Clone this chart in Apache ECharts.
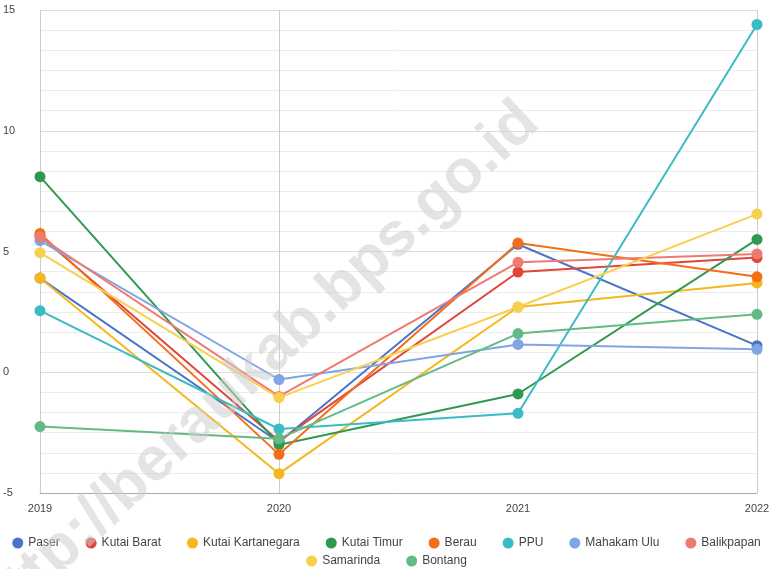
<!DOCTYPE html>
<html>
<head>
<meta charset="utf-8">
<script src="https://cdn.jsdelivr.net/npm/echarts@6/dist/echarts.min.js"></script>
<style>
  html, body { margin: 0; padding: 0; background: #fff; }
  #chart { width: 773px; height: 569px; }
</style>
</head>
<body>
<div id="chart"></div>
<script>
// tahun
const years = ['2019', '2020', '2021', '2022'];

// nilai per kabupaten/kota
const paser = [3.9, -2.9, 5.3, 1.1];
const kutaiBarat = [5.65, -2.85, 4.15, 4.75];
const kutaiKartanegara = [3.9, -4.2, 2.7, 3.7];
const kutaiTimur = [8.1, -3.0, -0.9, 5.5];
const berau = [5.75, -3.4, 5.35, 3.95];
const ppu = [2.55, -2.35, -1.7, 14.4];
const mahakamUlu = [5.45, -0.3, 1.15, 0.95];
const balikpapan = [5.6, -1.0, 4.55, 4.9];
const samarinda = [4.95, -1.05, 2.7, 6.55];
const bontang = [-2.25, -2.75, 1.6, 2.4];

const seriesNames = ['Paser', 'Kutai Barat', 'Kutai Kartanegara', 'Kutai Timur', 'Berau',
  'PPU', 'Mahakam Ulu', 'Balikpapan', 'Samarinda', 'Bontang'];
const seriesValues = [paser, kutaiBarat, kutaiKartanegara, kutaiTimur, berau,
  ppu, mahakamUlu, balikpapan, samarinda, bontang];

const chart = echarts.init(document.getElementById('chart'));

// legend dipecah dua baris seperti aslinya
const legendBase = {
  left: 'center',
  icon: 'circle',
  itemWidth: 11,
  itemHeight: 11,
  itemGap: 26,
  textStyle: { color: '#444', fontSize: 12 },
};

const option = {
  animation: false,
  color: ['#4a74c9', '#e0453a', '#f4b71c', '#2f9a4f', '#f46d17', '#3bbcc4', '#7fa5e3', '#ee7a72', '#f9cf4f', '#62bb85'],
  textStyle: { fontFamily: 'Liberation Sans, Arial, sans-serif' },
  grid: { left: 40, right: 16, top: 10, bottom: 76 },
  xAxis: {
    type: 'category',
    data: years,
    boundaryGap: false,
    axisLine: { onZero: false, lineStyle: { color: '#aaaaaa' } },
    axisTick: { show: false },
    axisLabel: { color: '#444', fontSize: 11, margin: 10 },
    splitLine: {
      show: true,
      interval: (i) => i !== 2,
      lineStyle: { color: '#cccccc', width: 1 },
    },
  },
  yAxis: {
    type: 'value',
    min: -5,
    max: 15,
    interval: 5,
    axisLine: { show: false },
    axisTick: { show: false },
    axisLabel: { color: '#444', fontSize: 11, align: 'left', margin: 37 },
    splitLine: { lineStyle: { color: '#dddddd' } },
    minorTick: { show: false, splitNumber: 6 },
    minorSplitLine: { show: true, lineStyle: { color: '#ececec' } },
  },
  legend: [
    Object.assign({}, legendBase, { top: 532, data: seriesNames.slice(0, 8) }),
    Object.assign({}, legendBase, { top: 550, data: seriesNames.slice(8) }),
  ],
  series: seriesNames.map((name, i) => ({
    name,
    type: 'line',
    data: seriesValues[i],
    symbol: 'circle',
    symbolSize: 11,
    lineStyle: { width: 2 },
  })),
  graphic: [{
    type: 'text',
    z: 100,
    rotation: 0.75,
    position: [-12, 618],
    style: {
      text: 'http://beraukab.bps.go.id',
      fill: 'rgba(205,205,205,0.55)',
      font: 'bold 62px Liberation Sans, Arial, sans-serif',
      verticalAlign: 'middle',
    },
  }],
};

chart.setOption(option);
</script>
</body>
</html>
